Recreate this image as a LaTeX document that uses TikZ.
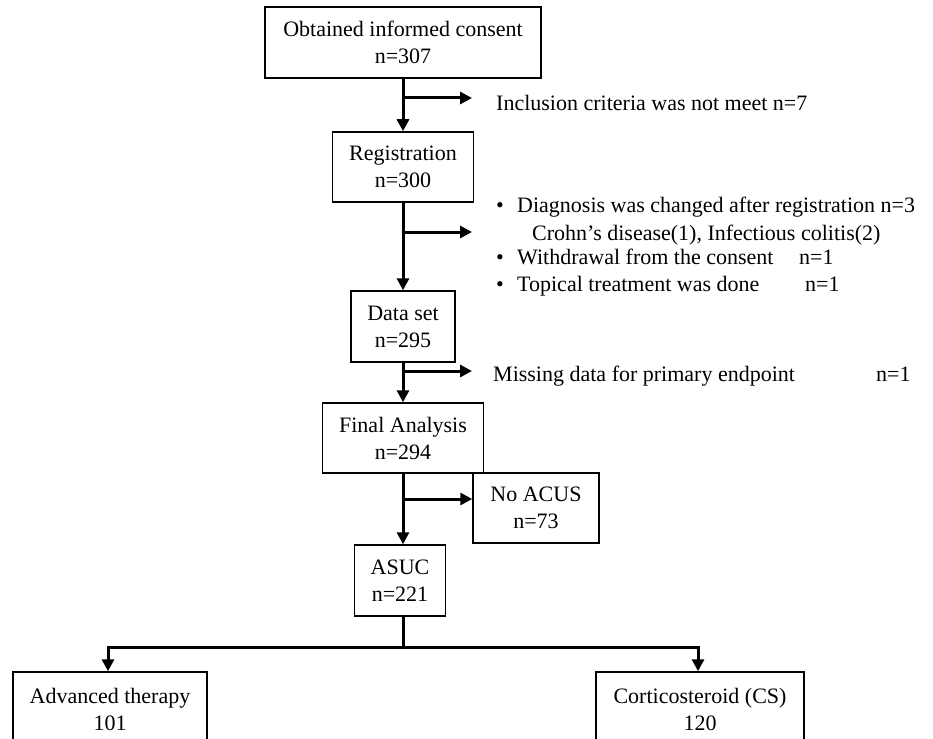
\documentclass[tikz,border=0pt]{standalone}
\usepackage{fontspec}
\setmainfont{Liberation Serif}
\usetikzlibrary{arrows.meta}
\begin{document}
\begin{tikzpicture}[x=1pt,y=-1pt,
  box/.style={draw,line width=1.5pt,align=center,inner sep=0pt,font=\fontsize{22}{27}\selectfont},
  lbl/.style={anchor=base west,inner sep=0pt,font=\fontsize{22}{27}\selectfont},
  flow/.style={line width=3pt,-{Triangle[length=12pt,width=12pt]}},
  bar/.style={line width=3pt}]
\useasboundingbox (0,0) rectangle (933,738);
\begin{scope}
\clip (0,0) rectangle (933,738);
% main boxes
\node[box,minimum width=276pt,minimum height=71pt] (top) at (403,42.5) {Obtained informed consent\\n=307};
\node[box,minimum width=141pt,minimum height=70pt] (reg) at (403,167) {Registration\\n=300};
\node[box,minimum width=104pt,minimum height=71pt] (data) at (403,326.5) {Data set\\n=295};
\node[box,minimum width=161pt,minimum height=70pt] (final) at (403,438) {Final Analysis\\n=294};
\node[box,minimum width=126pt,minimum height=70pt] (noacus) at (536,508) {No ACUS\\n=73};
\node[box,minimum width=91pt,minimum height=71pt] (asuc) at (400,580.5) {ASUC\\n=221};
\node[box,minimum width=194pt,minimum height=74pt] (adv) at (110,709) {Advanced therapy\\101};
\node[box,minimum width=208pt,minimum height=74pt] (cs) at (700,709) {Corticosteroid (CS)\\120};

% exclusion texts
\node[lbl] (incl) at (496,111) {Inclusion criteria was not meet n=7};
\node[lbl] (d1) at (496,212) {\makebox[21pt][l]{\textbullet}Diagnosis was changed after registration n=3};
\node[lbl] (d2) at (532,240) {Crohn’s disease(1), Infectious colitis(2)};
\node[lbl] (d3) at (496,264) {\makebox[21pt][l]{\textbullet}Withdrawal from the consent};
\node[lbl] (d3n) at (799,264) {n=1};
\node[lbl] (d4) at (496,291) {\makebox[21pt][l]{\textbullet}Topical treatment was done};
\node[lbl] (d4n) at (805,291) {n=1};
\node[lbl] (miss) at (493,381) {Missing data for primary endpoint};
\node[lbl] (missn) at (876,381) {n=1};

% branch points and ends
\coordinate (b1) at (403,98);  \coordinate (e1) at (472,98);
\coordinate (b2) at (403,232); \coordinate (e2) at (472,232);
\coordinate (b3) at (403,371); \coordinate (e3) at (472,371);
\coordinate (b4) at (403,499);
\coordinate (split) at (403,647);

% main flow
\draw[flow] (top) -- (reg);
\draw[flow] (reg) -- (data);
\draw[flow] (data) -- (final);
\draw[flow] (final.south) -- (final.south |- asuc.north);
\draw[flow] (b1) -- (e1);
\draw[flow] (b2) -- (e2);
\draw[flow] (b3) -- (e3);
\draw[flow] (b4) -- (b4 -| noacus.west);

% split
\draw[bar] (asuc.south -| split) -- (split);
\draw[bar,line cap=rect] ([xshift=-2pt]split -| adv.north) -- ([xshift=-2pt]split -| cs.north);
\draw[flow] ([xshift=-2pt]split -| adv.north) -- ([xshift=-2pt]adv.north);
\draw[flow] ([xshift=-2pt]split -| cs.north) -- ([xshift=-2pt]cs.north);
\end{scope}
\end{tikzpicture}
\end{document}
